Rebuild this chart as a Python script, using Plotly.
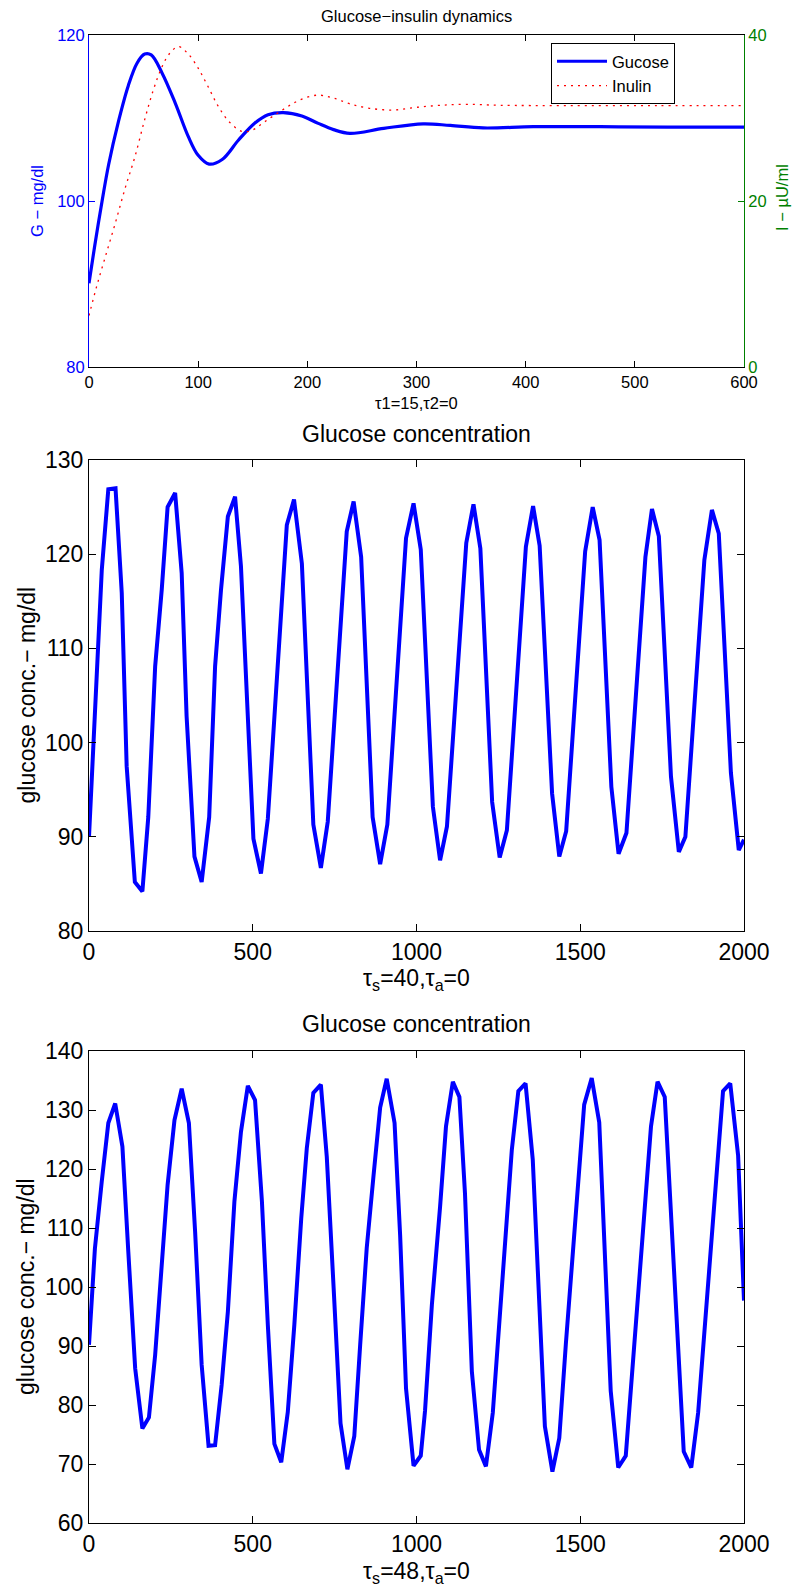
import plotly.graph_objects as go

# ---- Glucose-insulin dynamics (tau1=15, tau2=0) ----
t_dyn_g = [0, 5, 12, 18, 27, 36, 44, 51, 57, 67, 79, 91, 100, 110, 122, 137, 152,
           164, 178, 195, 210, 224, 239, 270, 306, 331, 361, 407, 468, 530, 600]
glucose_dyn = [90.1, 94.4, 100.0, 104.4, 109.6, 113.9, 116.6, 117.7, 117.6, 115.4,
               111.8, 107.75, 105.5, 104.45, 105.0, 107.35, 109.4, 110.4, 110.65,
               110.25, 109.35, 108.6, 108.15, 108.75, 109.3, 109.1, 108.8, 108.95,
               108.95, 108.9, 108.9]

t_dyn_i = [0, 7, 15, 24, 33, 42, 51, 59, 67, 74, 82, 91, 100, 109, 118, 128, 140,
           149, 161, 177, 192, 209, 224, 239, 257, 279, 300, 322, 346, 376, 438, 520, 600]
insulin_dyn = [6.2, 9.7, 13.3, 17.3, 21.5, 25.3, 29.8, 33.4, 36.2, 37.8, 38.6, 37.7,
               36.0, 33.8, 31.5, 29.6, 28.4, 28.5, 29.55, 30.95, 32.1, 32.75, 32.4,
               31.7, 31.17, 30.96, 31.29, 31.53, 31.65, 31.53, 31.5, 31.5, 31.5]

# ---- Glucose concentration, tau_s=40 ----
t_s40 = [0, 23, 39, 59, 81, 100, 115, 140, 163, 181, 202, 222, 240, 263, 283, 298,
         322, 344, 367, 385, 403, 424, 446, 464, 502, 525, 546, 604, 626, 650, 685,
         708, 729, 787, 808, 831, 866, 889, 911, 968, 991, 1013, 1050, 1072, 1093,
         1152, 1174, 1195, 1231, 1254, 1276, 1334, 1356, 1376, 1414, 1436, 1457,
         1515, 1538, 1559, 1595, 1617, 1641, 1699, 1719, 1740, 1777, 1801, 1821,
         1879, 1902, 1923, 1960, 1984, 2000]
glucose_s40 = [90, 107, 118.3, 126.9, 127, 115.9, 97.5, 85.2, 84.2, 92.1, 108.1,
               116.2, 125, 126.5, 118, 102.8, 87.9, 85.2, 92.1, 108.1, 116.2, 124,
               126.1, 118.7, 89.8, 86.1, 91.9, 123.1, 125.8, 119, 91.3, 86.7, 91.6,
               122.4, 125.6, 119.7, 92.1, 87.1, 91.3, 121.7, 125.4, 120.5, 93.2, 87.5,
               91.1, 121.2, 125.3, 120.6, 93.7, 87.8, 90.7, 120.8, 125.1, 120.9, 94.6,
               87.9, 90.6, 120.3, 125, 121.5, 95.3, 88.2, 90.4, 119.7, 124.8, 121.9,
               96.4, 88.4, 90, 119.4, 124.7, 122.2, 96.8, 88.6, 89.7]

# ---- Glucose concentration, tau_s=48 ----
t_s48 = [0, 18, 39, 59, 80, 102, 120, 141, 163, 183, 202, 222, 240, 261, 283, 305,
         324, 344, 365, 385, 405, 424, 444, 464, 485, 507, 528, 546, 566, 587, 607,
         627, 648, 665, 685, 708, 726, 747, 768, 789, 810, 828, 848, 869, 889, 909,
         933, 950, 968, 991, 1013, 1026, 1047, 1072, 1090, 1111, 1131, 1148, 1169,
         1191, 1212, 1233, 1255, 1273, 1291, 1311, 1333, 1355, 1372, 1392, 1415,
         1436, 1456, 1512, 1535, 1558, 1593, 1616, 1639, 1716, 1736, 1758, 1816,
         1839, 1860, 1936, 1958, 1982, 2000]
glucose_s48 = [90.2, 106.5, 117.9, 127.8, 131.1, 123.8, 106, 86.2, 76, 77.9, 88.5,
               103.7, 117.3, 128.3, 133.6, 127.8, 109.4, 86.8, 73.1, 73.2, 83.4, 95.8,
               114.5, 126.3, 134.1, 131.7, 114.5, 93.6, 73.4, 70.3, 78.8, 93.6, 111.6,
               123.5, 132.9, 134.3, 122.1, 99.8, 76.9, 69.1, 74.7, 90.2, 106.6, 119,
               130.4, 135.3, 127.8, 108.8, 82.8, 69.7, 71.4, 79, 97, 113.6, 127.2,
               134.8, 132.2, 115.9, 85.7, 72.4, 69.6, 78.7, 95.7, 111.6, 123.2, 133.2,
               134.5, 121.6, 99, 76.4, 68.7, 74.4, 90.3, 130.9, 135.4, 127.9, 82.4,
               69.4, 71.4, 127.2, 134.8, 132.2, 72.1, 69.4, 78.7, 133.2, 134.5, 122.3,
               97.7]

W, H = 794, 1594
FONT = "Liberation Sans, Arial, sans-serif"
BLUE = "#0000ff"
GREEN = "#008000"
RED = "#ff0000"


def px_x(px):
    return px / W


def px_y(py):
    return 1 - py / H


X_DOM = [px_x(89), px_x(744)]
TOP_DOM = [px_y(367), px_y(35)]
MID_DOM = [px_y(931), px_y(460)]
BOT_DOM = [px_y(1523), px_y(1051)]

fig = go.Figure()

fig.add_trace(go.Scatter(x=t_dyn_g, y=glucose_dyn, name="Gucose", mode="lines",
                         line=dict(color=BLUE, width=3.2, shape="spline", smoothing=1.0),
                         xaxis="x", yaxis="y"))
fig.add_trace(go.Scatter(x=t_dyn_i, y=insulin_dyn, name="Inulin", mode="lines",
                         line=dict(color=RED, width=1.3, dash="2px,5px",
                                   shape="spline", smoothing=1.0),
                         xaxis="x", yaxis="y2"))
fig.add_trace(go.Scatter(x=t_s40, y=glucose_s40, mode="lines", showlegend=False,
                         line=dict(color=BLUE, width=4), xaxis="x2", yaxis="y3"))
fig.add_trace(go.Scatter(x=t_s48, y=glucose_s48, mode="lines", showlegend=False,
                         line=dict(color=BLUE, width=4), xaxis="x3", yaxis="y4"))

small = 16.5
big = 23

common = dict(showgrid=False, zeroline=False, ticks="inside", showline=True,
              linewidth=1, automargin=False)

fig.update_layout(
    width=W, height=H,
    margin=dict(l=0, r=0, t=0, b=0, pad=0, autoexpand=False),
    paper_bgcolor="white", plot_bgcolor="white",
    font=dict(family=FONT, color="black"),
    xaxis=dict(domain=X_DOM, anchor="y", range=[0, 600],
               tickvals=[0, 100, 200, 300, 400, 500, 600], ticklen=6,
               linecolor="black", tickcolor="black", mirror="ticks",
               tickfont=dict(size=small, color="black"), **common),
    yaxis=dict(domain=TOP_DOM, anchor="x", range=[80, 120], tickvals=[80, 100, 120],
               ticklen=6, linecolor=BLUE, tickcolor=BLUE, mirror="ticks",
               tickfont=dict(size=small, color=BLUE), **common),
    yaxis2=dict(overlaying="y", anchor="x", side="right", range=[0, 40],
                tickvals=[0, 20, 40], ticklen=6, linecolor=GREEN, tickcolor=GREEN,
                tickfont=dict(size=small, color=GREEN), **common),
    xaxis2=dict(domain=X_DOM, anchor="y3", range=[0, 2000],
                tickvals=[0, 500, 1000, 1500, 2000], ticklen=7,
                linecolor="black", tickcolor="black", mirror="ticks",
                tickfont=dict(size=big), **common),
    yaxis3=dict(domain=MID_DOM, anchor="x2", range=[80, 130],
                tickvals=[80, 90, 100, 110, 120, 130], ticklen=7,
                linecolor="black", tickcolor="black", mirror="ticks",
                tickfont=dict(size=big), **common),
    xaxis3=dict(domain=X_DOM, anchor="y4", range=[0, 2000],
                tickvals=[0, 500, 1000, 1500, 2000], ticklen=7,
                linecolor="black", tickcolor="black", mirror="ticks",
                tickfont=dict(size=big), **common),
    yaxis4=dict(domain=BOT_DOM, anchor="x3", range=[60, 140],
                tickvals=[60, 70, 80, 90, 100, 110, 120, 130, 140], ticklen=7,
                linecolor="black", tickcolor="black", mirror="ticks",
                tickfont=dict(size=big), **common),
    legend=dict(x=px_x(551), y=px_y(43), xanchor="left", yanchor="top",
                bordercolor="black", borderwidth=1, bgcolor="white",
                itemwidth=50, font=dict(size=small, color="black"),
                tracegroupgap=0),
)


def label(text, x, y, size, color="black", angle=0):
    fig.add_annotation(text=text, x=px_x(x), y=px_y(y), xref="paper", yref="paper",
                       xanchor="center", yanchor="middle", showarrow=False,
                       textangle=angle, font=dict(size=size, color=color, family=FONT))


cx = (89 + 744) / 2
# top panel texts
label("Glucose\u2212insulin dynamics", cx, 16, small)
label("G \u2212 mg/dl", 37, 201, small, BLUE, -90)
label("I \u2212 \u00b5U/ml", 782, 198, small, GREEN, -90)
label("\u03c41=15,\u03c42=0", cx, 403, small)
# middle panel texts
label("Glucose concentration", cx, 434, big)
label("glucose conc.\u2212 mg/dl", 26, (460 + 931) / 2, big, angle=-90)
label("\u03c4<sub>s</sub>=40,\u03c4<sub>a</sub>=0", cx, 980, big)
# bottom panel texts
label("Glucose concentration", cx, 1024, big)
label("glucose conc.\u2212 mg/dl", 26, (1051 + 1523) / 2, big, angle=-90)
label("\u03c4<sub>s</sub>=48,\u03c4<sub>a</sub>=0", cx, 1572, big)

fig.write_html("out.html")
